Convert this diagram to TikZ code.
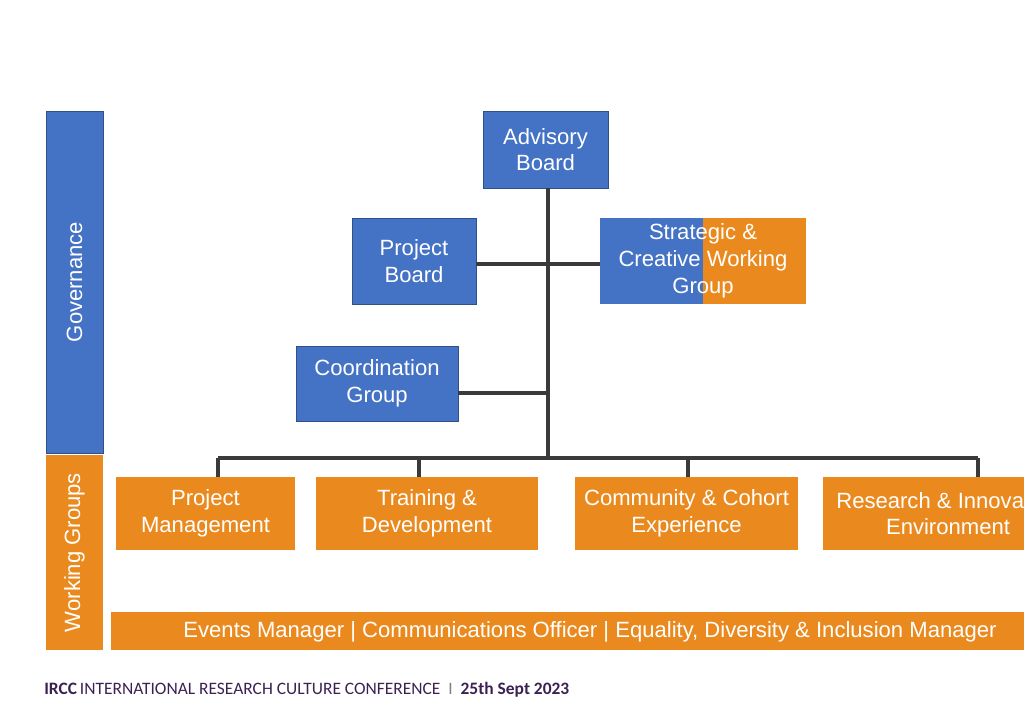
\documentclass[tikz,border=0pt]{standalone}
\usepackage{fontspec}
\setmainfont{Liberation Sans}
\newfontfamily\footfont{Carlito}
\usetikzlibrary{positioning}
\definecolor{govblue}{HTML}{4472C4}
\definecolor{wgorange}{HTML}{EA8A1E}
\definecolor{ircc}{HTML}{3B2152}
\definecolor{linegray}{HTML}{3A3A3A}
\tikzset{
  bluebox/.style={draw=govblue!70!black, fill=govblue, text=white, align=center, inner sep=0pt},
  orangebox/.style={fill=wgorange, text=white, align=center, inner sep=0pt},
  link/.style={draw=linegray, line width=2.8pt}
}
\begin{document}
\begin{tikzpicture}[x=0.025cm, y=-0.025cm, font=\fontsize{15.7}{19}\selectfont]
    \useasboundingbox (0,0) rectangle (1024,724);
    \clip (0,0) rectangle (1024,724);

    % Side bars
    \node[bluebox, minimum width=57*0.025cm, minimum height=342*0.025cm] (gov) at (74.5,282) {};
    \node[rotate=90, text=white] at (gov.center) {Governance};
    \node[orangebox, minimum width=57*0.025cm, minimum height=195*0.025cm] (wg) at (74.5,552.5) {};
    \node[rotate=90, text=white] at (wg.center) {Working Groups};

    % Governance boxes
    \node[bluebox, minimum width=125*0.025cm, minimum height=77*0.025cm] (adv) at (545.5,149.5) {Advisory\\Board};
    \node[bluebox, minimum width=124*0.025cm, minimum height=86*0.025cm] (pb) at (414,261) {Project\\Board};
    \node[bluebox, minimum width=162*0.025cm, minimum height=75*0.025cm] (coord) at (377,383.5) {Coordination\\Group};

    % Strategic box, half blue half orange
    \fill[govblue] (600,218) rectangle (703,304);
    \fill[wgorange] (703,218) rectangle (806,304);
    \node[align=center, text=white, minimum width=206*0.025cm, minimum height=86*0.025cm] (scwg) at (703,261) {Strategic \&\\Creative Working\\Group};

    % Connectors
    \coordinate (busL) at (218,458);
    \coordinate (busR) at (978,458);
    \coordinate (trunk) at (548,458);
    \draw[link] (476,264) -- (600,264);
    \draw[link] (adv.south -| trunk) -- (trunk);
    \draw[link] (458,393) -- (548,393);
    \draw[link] (busL) -- (busR);

    % Working groups
    \node[orangebox, minimum width=179*0.025cm, minimum height=73*0.025cm] (pm) at (205.5,513.5) {Project\\Management};
    \node[orangebox, minimum width=222*0.025cm, minimum height=73*0.025cm] (td) at (427,513.5) {Training \&\\Development};
    \node[orangebox, minimum width=223*0.025cm, minimum height=73*0.025cm] (cce) at (686.5,513.5) {Community \& Cohort\\Experience};
    \node[orangebox, minimum width=250*0.025cm, minimum height=73*0.025cm] (rie) at (948,513.5) {Research \& Innovation\\Environment};
    \draw[link] (busL) -- (busL |- pm.north);
    \draw[link] (419,458) -- (419,477);
    \draw[link] (688,458) -- (688,477);
    \draw[link] (busR) -- (busR |- rie.north);

    % Staff bar
    \fill[wgorange] (111,612) rectangle (1030,650);
    \node[text=white] (staff) at (590,632) {Events Manager | Communications Officer | Equality, Diversity \& Inclusion Manager};

    % Footer
    \node[anchor=west, inner sep=0pt, text=ircc, font=\footfont\fontsize{12.4}{14}\selectfont] (foot) at (44,690)
      {\textbf{IRCC}\,INTERNATIONAL RESEARCH CULTURE CONFERENCE\ \ {\color{gray}I}\ \ \textbf{25th Sept 2023}};
\end{tikzpicture}
\end{document}
